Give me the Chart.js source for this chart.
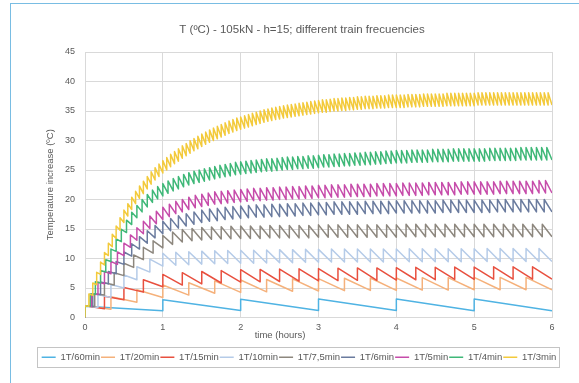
<!DOCTYPE html>
<html>
<head>
<meta charset="utf-8">
<title>T (ºC) - 105kN - h=15</title>
<script src="https://cdn.jsdelivr.net/npm/chart.js@4.4.0/dist/chart.umd.min.js"></script>
<style>
  html, body { margin: 0; padding: 0; background: #fff; }
  #wrap { position: relative; width: 579px; height: 383px; overflow: hidden; }
  #chart { position: absolute; left: 0; top: 0; }
  #frame { position: absolute; left: 10px; top: 3px; right: -2px; bottom: -2px;
           border-left: 1px solid #79bde3; border-top: 1px solid #79bde3; pointer-events: none; }
</style>
</head>
<body>
<div id="wrap">
  <canvas id="chart" width="579" height="383"></canvas>
  <div id="frame"></div>
</div>
<script>
// Texts
const titleText = 'T (ºC) - 105kN - h=15; different train frecuencies';
const xTitle = 'time (hours)';
const yTitle = 'Temperature increase (ºC)';

// Series: legend labels, minutes between trains, colours
const labels = ['1T/60min', '1T/20min', '1T/15min', '1T/10min', '1T/7,5min', '1T/6min', '1T/5min', '1T/4min', '1T/3min'];
const periods = [60, 20, 15, 10, 7.5, 6, 5, 4, 3];
const colors = ['#4fb3e3', '#f5b17b', '#e8503f', '#b5cbe8', '#8d877e', '#6a7b9e', '#c64caa', '#3fb878', '#f3ca3b'];

// Axis ticks
const xTicks = [0, 1, 2, 3, 4, 5, 6];
const yTicks = [0, 5, 10, 15, 20, 25, 30, 35, 40, 45];

// Values: temperature just before each train (troughs,
// last one = value at 6 h) and just after each train (peaks)
const troughs60 = [0, 1.15, 1.2, 1.2, 1.2, 1.15, 1.15];
const peaks60 = [1.9, 3.0, 3.1, 3.15, 3.15, 3.15];

const troughs20 = [0, 1.4, 2.6, 3.4, 3.8, 4.1, 4.25, 4.35, 4.45, 4.5, 4.55, 4.6, 4.6, 4.65, 4.65, 4.7, 4.7, 4.7, 4.7];
const peaks20 = [2.0, 3.5, 4.7, 5.5, 5.9, 6.2, 6.35, 6.45, 6.55, 6.6, 6.65, 6.7, 6.7, 6.75, 6.75, 6.8, 6.8, 6.8];

const troughs15 = [0, 1.5, 3.0, 4.3, 5.2, 5.5, 5.7, 5.85, 6.0, 6.05, 6.1, 6.15, 6.2, 6.25, 6.3, 6.3, 6.35, 6.4, 6.4, 6.45, 6.45, 6.5, 6.5, 6.5, 6.5];
const peaks15 = [2.0, 3.6, 5.1, 6.4, 7.3, 7.6, 7.8, 7.95, 8.1, 8.15, 8.2, 8.25, 8.3, 8.35, 8.4, 8.4, 8.45, 8.5, 8.5, 8.55, 8.55, 8.6, 8.6, 8.6];

const troughs10 = [0, 1.7, 3.4, 5.0, 6.4, 7.7, 8.7,
  8.85, 8.95, 9.05, 9.1, 9.15, 9.2,
  9.2, 9.25, 9.3, 9.3, 9.35, 9.35,
  9.4, 9.4, 9.4, 9.4, 9.4, 9.4, 9.45, 9.45, 9.45, 9.45, 9.45, 9.45, 9.5, 9.5, 9.5, 9.5, 9.5, 9.5];
const peaks10 = [2.0, 3.9, 5.6, 7.2, 8.6, 9.9, 10.9,
  11.05, 11.15, 11.25, 11.3, 11.35, 11.4,
  11.4, 11.45, 11.5, 11.5, 11.55, 11.55,
  11.6, 11.6, 11.6, 11.6, 11.6, 11.6, 11.65, 11.65, 11.65, 11.65, 11.65, 11.65, 11.7, 11.7, 11.7, 11.7, 11.7];

const troughs7_5 = [0, 1.85, 3.8, 5.5, 7.1, 8.5, 9.8, 10.9, 11.8, 12.4, 12.8, 13.0, 13.15, 13.25, 13.3, 13.35, 13.4,
  13.4, 13.4, 13.5, 13.5, 13.5, 13.5, 13.5, 13.6,
  13.6, 13.6, 13.6, 13.6, 13.6, 13.6, 13.6, 13.6,
  13.7, 13.7, 13.7, 13.7, 13.7, 13.7, 13.7, 13.7, 13.7, 13.7, 13.7, 13.7, 13.7, 13.7, 13.7, 13.7];
const peaks7_5 = [2.0, 4.0, 5.9, 7.6, 9.2, 10.6, 11.9, 13.0, 13.9, 14.5, 14.9, 15.1, 15.25, 15.35, 15.4, 15.45, 15.5,
  15.5, 15.5, 15.6, 15.6, 15.6, 15.6, 15.6, 15.7,
  15.7, 15.7, 15.7, 15.7, 15.7, 15.7, 15.7, 15.7,
  15.8, 15.8, 15.8, 15.8, 15.8, 15.8, 15.8, 15.8, 15.8, 15.8, 15.8, 15.8, 15.8, 15.8, 15.8];

const troughs6 = [0, 1.85, 3.9, 5.7, 7.4, 9.0, 10.4, 11.6, 12.6, 13.5, 14.2,
  14.7, 15.15, 15.5, 15.8, 16.1, 16.3, 16.4, 16.6, 16.7, 16.8,
  16.9, 17.0, 17.0, 17.1, 17.1, 17.2, 17.2, 17.3, 17.3, 17.4,
  17.4, 17.5, 17.5, 17.5, 17.5, 17.6, 17.6, 17.6, 17.6, 17.7,
  17.7, 17.7, 17.7, 17.7, 17.7, 17.8, 17.8, 17.8, 17.8, 17.8, 17.8, 17.8,
  17.9, 17.9, 17.9, 17.9, 17.9, 17.9, 17.9, 17.9];
const peaks6 = [2.0, 4.0, 6.0, 7.8, 9.5, 11.1, 12.5, 13.7, 14.7, 15.6, 16.3,
  16.8, 17.25, 17.6, 17.9, 18.2, 18.4, 18.5, 18.7, 18.8, 18.9,
  19.0, 19.1, 19.1, 19.2, 19.2, 19.3, 19.3, 19.4, 19.4, 19.5,
  19.5, 19.6, 19.6, 19.6, 19.6, 19.7, 19.7, 19.7, 19.7, 19.8,
  19.8, 19.8, 19.8, 19.8, 19.8, 19.9, 19.9, 19.9, 19.9, 19.9, 19.9, 19.9,
  20.0, 20.0, 20.0, 20.0, 20.0, 20.0, 20.0];

const troughs5 = [0, 1.9, 3.9, 5.7, 7.4, 9.0, 10.5, 11.9, 13.1, 14.2, 15.1, 15.9, 16.6,
  17.1, 17.6, 17.9, 18.3, 18.6, 18.8, 19.0, 19.2, 19.3, 19.4, 19.5, 19.6,
  19.7, 19.8, 19.8, 19.9, 19.9, 20.0, 20.0, 20.1, 20.1, 20.2, 20.2, 20.3,
  20.3, 20.4, 20.4, 20.4, 20.5, 20.5, 20.5, 20.5, 20.6, 20.6, 20.6, 20.6,
  20.7, 20.7, 20.7, 20.7, 20.8, 20.8, 20.8, 20.8, 20.8, 20.9, 20.9, 20.9,
  20.9, 20.9, 20.9, 21.0, 21.0, 21.0, 21.0, 21.0, 21.0, 21.1, 21.1, 21.1];
const peaks5 = [2.0, 4.0, 6.0, 7.8, 9.5, 11.1, 12.6, 14.0, 15.2, 16.3, 17.2, 18.0, 18.7,
  19.2, 19.7, 20.0, 20.4, 20.7, 20.9, 21.1, 21.3, 21.4, 21.5, 21.6, 21.7,
  21.8, 21.9, 21.9, 22.0, 22.0, 22.1, 22.1, 22.2, 22.2, 22.3, 22.3, 22.4,
  22.4, 22.5, 22.5, 22.5, 22.6, 22.6, 22.6, 22.6, 22.7, 22.7, 22.7, 22.7,
  22.8, 22.8, 22.8, 22.8, 22.9, 22.9, 22.9, 22.9, 22.9, 23.0, 23.0, 23.0,
  23.0, 23.0, 23.0, 23.1, 23.1, 23.1, 23.1, 23.1, 23.1, 23.2, 23.2];

const troughs4 = [0, 1.9, 3.95, 5.85, 7.7, 9.5, 11.2, 12.85, 14.4,
  15.75, 16.9, 17.9, 18.75, 19.5, 20.1, 20.6,
  21.05, 21.45, 21.8, 22.15, 22.45, 22.7, 22.9,
  23.1, 23.3, 23.5, 23.7, 23.85, 24.0, 24.2, 24.3,
  24.4, 24.5, 24.6, 24.7, 24.8, 24.8, 24.9, 25.0, 25.1, 25.1, 25.2, 25.2, 25.3, 25.3, 25.4,
  25.5, 25.5, 25.6, 25.6, 25.7, 25.7, 25.8, 25.8, 25.9, 25.9, 26.0, 26.0, 26.1, 26.1, 26.2,
  26.2, 26.2, 26.3, 26.3, 26.3, 26.3, 26.4, 26.4, 26.4, 26.4, 26.5, 26.5, 26.5, 26.5, 26.5,
  26.5, 26.5, 26.6, 26.6, 26.6, 26.6, 26.6, 26.6, 26.7, 26.7, 26.7, 26.7, 26.7, 26.7, 26.7];
const peaks4 = [2.0, 4.0, 6.05, 7.95, 9.8, 11.6, 13.3, 14.95, 16.5,
  17.85, 19.0, 20.0, 20.85, 21.6, 22.2, 22.7,
  23.15, 23.55, 23.9, 24.25, 24.55, 24.8, 25.0,
  25.2, 25.4, 25.6, 25.8, 25.95, 26.1, 26.3, 26.4,
  26.5, 26.6, 26.7, 26.8, 26.9, 26.9, 27.0, 27.1, 27.2, 27.2, 27.3, 27.3, 27.4, 27.4, 27.5,
  27.6, 27.6, 27.7, 27.7, 27.8, 27.8, 27.9, 27.9, 28.0, 28.0, 28.1, 28.1, 28.2, 28.2, 28.3,
  28.3, 28.3, 28.4, 28.4, 28.4, 28.4, 28.5, 28.5, 28.5, 28.5, 28.6, 28.6, 28.6, 28.6, 28.6,
  28.6, 28.6, 28.7, 28.7, 28.7, 28.7, 28.7, 28.7, 28.8, 28.8, 28.8, 28.8, 28.8, 28.8];

const troughs3 = [0, 1.9, 3.75, 5.55, 7.3, 8.9, 10.5, 12.0, 13.4, 14.8, 16.1,
  17.2, 18.3, 19.3, 20.2, 21.0, 21.8, 22.6, 23.3, 23.9, 24.5,
  25.0, 25.55, 26.05, 26.5, 27.0, 27.4, 27.85, 28.25, 28.6, 29.0,
  29.35, 29.7, 30.0, 30.3, 30.6, 30.9, 31.2, 31.45, 31.7, 31.9,
  32.1, 32.3, 32.5, 32.7, 32.9, 33.1, 33.25, 33.4, 33.55, 33.65,
  33.8, 33.9, 34.0, 34.1, 34.2, 34.3, 34.4, 34.5, 34.6, 34.7,
  34.8, 34.8, 34.9, 35.0, 35.0, 35.1, 35.1, 35.2, 35.2, 35.3,
  35.3, 35.4, 35.4, 35.4, 35.5, 35.5, 35.5, 35.6, 35.6, 35.6,
  35.6, 35.6, 35.7, 35.7, 35.7, 35.7, 35.8, 35.8, 35.8, 35.8,
  35.8, 35.8, 35.9, 35.9, 35.9, 35.9, 35.9, 35.9, 35.9, 35.9,
  36.0, 36.0, 36.0, 36.0, 36.0, 36.0, 36.0, 36.0, 36.0, 36.0,
  36.0, 36.0, 36.0, 36.0, 36.0, 36.0, 36.0, 36.0, 36.0, 36.0];
const peaks3 = [2.0, 4.0, 5.85, 7.65, 9.4, 11.0, 12.6, 14.1, 15.5, 16.9, 18.2,
  19.3, 20.4, 21.4, 22.3, 23.1, 23.9, 24.7, 25.4, 26.0, 26.6,
  27.1, 27.65, 28.15, 28.6, 29.1, 29.5, 29.95, 30.35, 30.7, 31.1,
  31.45, 31.8, 32.1, 32.4, 32.7, 33.0, 33.3, 33.55, 33.8, 34.0,
  34.2, 34.4, 34.6, 34.8, 35.0, 35.2, 35.35, 35.5, 35.65, 35.75,
  35.9, 36.0, 36.1, 36.2, 36.3, 36.4, 36.5, 36.6, 36.7, 36.8,
  36.9, 36.9, 37.0, 37.1, 37.1, 37.2, 37.2, 37.3, 37.3, 37.4,
  37.4, 37.5, 37.5, 37.5, 37.6, 37.6, 37.6, 37.7, 37.7, 37.7,
  37.7, 37.7, 37.8, 37.8, 37.8, 37.8, 37.9, 37.9, 37.9, 37.9,
  37.9, 37.9, 38.0, 38.0, 38.0, 38.0, 38.0, 38.0, 38.0, 38.0,
  38.1, 38.1, 38.1, 38.1, 38.1, 38.1, 38.1, 38.1, 38.1, 38.1,
  38.1, 38.1, 38.1, 38.1, 38.1, 38.1, 38.1, 38.1, 38.1];

const troughList = [troughs60, troughs20, troughs15, troughs10, troughs7_5, troughs6, troughs5, troughs4, troughs3];
const peakList = [peaks60, peaks20, peaks15, peaks10, peaks7_5, peaks6, peaks5, peaks4, peaks3];

const textColor = '#595959';
const fontFamily = '"Liberation Sans", Arial, sans-serif';

// Sawtooth: at each train time the line jumps from trough to peak
function buildSeries(period, troughs, peaks) {
  const step = period / 60;
  const pts = [];
  for (let i = 0; i < peaks.length; i++) {
    const t = i * step;
    pts.push({ x: t, y: troughs[i] });
    pts.push({ x: t, y: peaks[i] });
  }
  pts.push({ x: peaks.length * step, y: troughs[peaks.length] });
  return pts;
}

// Later series drawn on top, as in the original
const datasets = labels.map((label, i) => ({
  label: label,
  data: buildSeries(periods[i], troughList[i], peakList[i]),
  borderColor: colors[i],
  backgroundColor: colors[i],
  borderWidth: 1.5,
  borderJoinStyle: 'round',
  pointRadius: 0,
  tension: 0,
  fill: false,
  order: labels.length - i
}));

// Title, x-axis title and the frame round the legend
const decorPlugin = {
  id: 'decor',
  afterDraw(chart) {
    const ctx = chart.ctx;
    const area = chart.chartArea;
    ctx.save();
    ctx.fillStyle = textColor;
    ctx.textAlign = 'center';
    ctx.textBaseline = 'middle';
    ctx.font = '11.5px ' + fontFamily;
    ctx.fillText(titleText, area.left + 217, area.top - 22);
    ctx.font = '9.5px ' + fontFamily;
    ctx.fillText(xTitle, area.left + 195, area.bottom + 18);

    const boxes = chart.legend.legendHitBoxes;
    if (boxes && boxes.length) {
      let minX = Infinity, maxX = -Infinity;
      boxes.forEach(b => { minX = Math.min(minX, b.left); maxX = Math.max(maxX, b.left + b.width); });
      const first = boxes[0];
      const left = Math.round(minX - 5) + 0.5;
      const right = Math.round(maxX + 3) + 0.5;
      const top = Math.round(first.top + first.height / 2 - 10) + 0.5;
      ctx.strokeStyle = '#c4c4c4';
      ctx.lineWidth = 1;
      ctx.strokeRect(left, top, right - left, 20);
    }
    ctx.restore();
  }
};

new Chart(document.getElementById('chart'), {
  type: 'line',
  data: { datasets: datasets },
  options: {
    responsive: false,
    animation: false,
    events: [],
    layout: { padding: { left: 38, right: 19, top: 52, bottom: 11 } },
    plugins: {
      title: { display: false },
      tooltip: { enabled: false },
      legend: {
        position: 'bottom',
        labels: {
          usePointStyle: true,
          pointStyle: 'line',
          pointStyleWidth: 14,
          padding: 1,
          color: textColor,
          font: { size: 9.5, family: fontFamily },
          sort: (a, b) => a.datasetIndex - b.datasetIndex
        }
      }
    },
    scales: {
      x: {
        type: 'linear',
        min: 0,
        max: 6,
        afterBuildTicks: (scale) => { scale.ticks = xTicks.map(v => ({ value: v })); },
        afterFit: (scale) => { scale.height = 34; },
        grid: { color: '#d9d9d9', drawTicks: false },
        border: { color: '#d9d9d9' },
        ticks: { padding: 5, color: textColor, font: { size: 9, family: fontFamily } }
      },
      y: {
        min: 0,
        max: 45,
        afterBuildTicks: (scale) => { scale.ticks = yTicks.map(v => ({ value: v })); },
        afterFit: (scale) => { scale.width = 47; },
        grid: { color: '#d9d9d9', drawTicks: false },
        border: { color: '#d9d9d9' },
        ticks: { padding: 10, color: textColor, font: { size: 9, family: fontFamily } },
        title: {
          display: true,
          text: yTitle,
          color: textColor,
          padding: { top: 7, bottom: 0 },
          font: { size: 9.5, family: fontFamily }
        }
      },
      // empty strip on the right so the legend can be wider than the plot
      yPad: {
        position: 'right',
        display: true,
        grid: { display: false },
        border: { display: false },
        ticks: { display: false },
        afterFit: (scale) => { scale.width = 8; }
      }
    }
  },
  plugins: [decorPlugin]
});
</script>
</body>
</html>
